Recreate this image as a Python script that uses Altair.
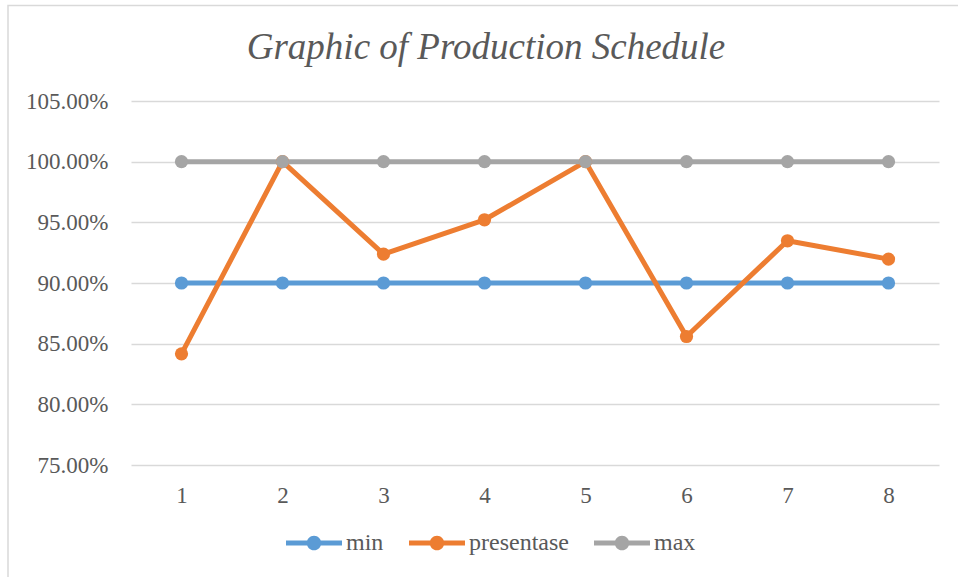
import altair as alt
import pandas as pd

# Production schedule: target band (min/max) and achieved percentage per period
periods = [1, 2, 3, 4, 5, 6, 7, 8]
min_pct = [0.90, 0.90, 0.90, 0.90, 0.90, 0.90, 0.90, 0.90]
presentase = [0.8416, 1.00, 0.9238, 0.9521, 1.00, 0.8559, 0.9348, 0.9197]
max_pct = [1.00, 1.00, 1.00, 1.00, 1.00, 1.00, 1.00, 1.00]

series_names = ["min", "presentase", "max"]
series_colors = ["#5B9BD5", "#ED7D31", "#A5A5A5"]
y_ticks = [0.75, 0.80, 0.85, 0.90, 0.95, 1.00, 1.05]
chart_title = "Graphic of Production Schedule"

rows = []
for i, (name, values) in enumerate(zip(series_names, [min_pct, presentase, max_pct])):
    for p, v in zip(periods, values):
        rows.append({"period": p, "series": name, "value": v, "order": i})
df = pd.DataFrame(rows)

FONT = "Liberation Serif"
TEXT = "#595959"

# Legend glyph: a thick horizontal stroke with a dot in the middle
legend_glyph = (
    "M-1,-0.09 L1,-0.09 L1,0.09 L-1,0.09 Z "
    "M-0.26,0 A0.26,0.26 0 1,1 0.26,0 A0.26,0.26 0 1,1 -0.26,0 Z"
)

x_enc = alt.X(
    "period:O",
    scale=alt.Scale(type="point", padding=0.5),
    axis=alt.Axis(
        title=None, labelAngle=0, domain=False, ticks=False, tickSize=0,
        labelFont=FONT, labelFontSize=23, labelColor=TEXT, labelPadding=19,
        grid=False,
    ),
)
y_enc = alt.Y(
    "value:Q",
    scale=alt.Scale(domain=[0.75, 1.05], nice=False, zero=False),
    axis=alt.Axis(
        title=None, format=".2%", values=y_ticks, domain=False, ticks=False,
        tickSize=0, labelFont=FONT, labelFontSize=23, labelColor=TEXT,
        labelPadding=23, grid=True, gridColor="#D9D9D9", gridWidth=1.3,
    ),
)
color_scale = alt.Scale(domain=series_names, range=series_colors)

lines = alt.Chart(df).mark_line(strokeWidth=5, strokeJoin="round", strokeCap="round").encode(
    x=x_enc,
    y=y_enc,
    stroke=alt.Stroke("series:N", scale=color_scale, legend=None),
    detail="series:N",
)

points = alt.Chart(df).mark_point(filled=True, size=175, opacity=1, shape="circle").encode(
    x=x_enc,
    y=y_enc,
    fill=alt.Fill(
        "series:N",
        scale=color_scale,
        legend=alt.Legend(
            title=None, orient="none", direction="horizontal",
            legendX=155, legendY=414,
            symbolType=legend_glyph, symbolSize=3136, symbolStrokeWidth=0,
            symbolOpacity=1, labelFont=FONT, labelFontSize=24,
            labelColor=TEXT, labelOffset=4, columnPadding=25,
        ),
    ),
    order=alt.Order("order:Q"),
)

# Chart title, centred over the chart area
title = alt.Chart(alt.Data(values=[{"t": chart_title}])).mark_text(
    font=FONT, fontSize=37, fontStyle="italic", color=TEXT,
    align="center", baseline="alphabetic",
).encode(text="t:N", x=alt.value(355), y=alt.value(-42))

# Outer chart-area frame
frame = alt.Chart(alt.Data(values=[{}])).mark_rect(
    fill=None, stroke="#D9D9D9", strokeWidth=1.5
).encode(
    x=alt.value(-123), x2=alt.value(900),
    y=alt.value(-95.5), y2=alt.value(560),
)

chart = alt.layer(frame, title, lines, points).resolve_legend(
    stroke="independent", fill="independent"
).properties(
    width=808,
    height=364,
    autosize=alt.AutoSizeParams(type="none"),
    padding={"left": 131, "top": 101, "right": 19, "bottom": 112},
).configure(
    background="white",
    view=alt.ViewConfig(stroke="transparent", strokeWidth=0),
)

chart.save("out.html", embed_options={"renderer": "svg", "actions": False})
